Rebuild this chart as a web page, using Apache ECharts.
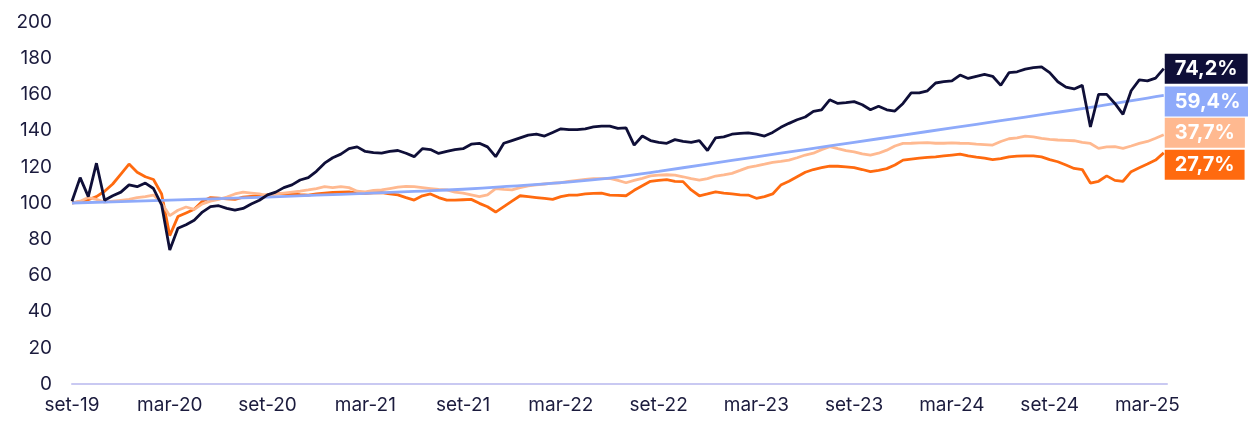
<!DOCTYPE html>
<html>
<head>
<meta charset="utf-8">
<script src="https://cdn.jsdelivr.net/npm/echarts@6/dist/echarts.min.js"></script>
<style>
  html, body { margin: 0; padding: 0; background: #fff; }
  #chart { width: 1248px; height: 421px; }
</style>
</head>
<body>
<div id="chart"></div>
<script>
// x values are months counted from set-19, one point every half month
const STEP = 0.5
const TICK_LABELS = ['set-19', 'mar-20', 'set-20', 'mar-21', 'set-21', 'mar-22',
  'set-22', 'mar-23', 'set-23', 'mar-24', 'set-24', 'mar-25']
const END_LABELS = ['74,2%', '59,4%', '37,7%', '27,7%']

const navy = [
  101, 114, 103.5, 122, 101.5, 104, 106, 110, 109, 111,
  108, 99, 74, 86, 88, 90.5, 95, 98, 98.5, 97,
  96, 97, 99.5, 101.5, 104.5, 106, 108.5, 110, 112.7, 114,
  117.5, 122, 125, 127, 130, 131, 128.5, 127.8, 127.5, 128.5,
  129, 127.5, 125.6, 130, 129.5, 127.4, 128.5, 129.5, 130, 132.5,
  133, 131, 125.6, 133, 134.5, 136, 137.5, 138, 137, 139,
  141, 140.5, 140.5, 141, 142, 142.5, 142.5, 141.2, 141.5, 132,
  137, 134.5, 133.5, 133, 135, 134, 133.5, 134.5, 129, 136,
  136.5, 138, 138.5, 138.8, 138, 137, 139, 141.8, 144, 146,
  147.5, 150.6, 151.5, 157, 155, 155.4, 156, 154.3, 151.5, 153.5,
  151.5, 150.8, 155, 160.8, 160.8, 162, 166.3, 167, 167.5, 170.7,
  168.8, 170, 171, 170, 165, 172, 172.5, 174, 174.8, 175.2,
  172, 167, 164, 163, 165, 142, 160, 160, 155, 149,
  162, 168, 167.5, 169, 174.2
]

const peach = [
  100, 101, 103, 102, 100.5, 101, 101.5, 102, 103, 103.5,
  104.4, 100, 93, 96, 97.8, 96.5, 99.5, 101, 102, 103.3,
  105, 106, 105.5, 105, 104, 105, 105.5, 106, 106.5, 107.2,
  108, 109, 108.5, 109, 108.5, 106.5, 106.2, 107, 107.2, 108,
  108.8, 109.2, 109, 108.5, 108, 107.5, 107.2, 106, 105.5, 104.5,
  103.5, 104.5, 108, 107.5, 107.2, 108.5, 109.5, 110, 110.5, 111,
  111.2, 112, 112.5, 113, 113.5, 113.5, 113.6, 112.5, 111.2, 112.5,
  113.6, 115, 115.4, 115.6, 115.4, 114.5, 113.5, 112.7, 113.5, 114.9,
  115.5, 116.4, 118, 119.7, 120.5, 121.5, 122.5, 123, 123.7, 125,
  126.5, 127.5, 129.5, 131.1, 130, 129, 128.3, 127.2, 126.5, 127.5,
  129.2, 131.5, 132.9, 133, 133.2, 133.3, 133, 133, 133.2, 133,
  132.9, 132.5, 132.3, 132, 134, 135.5, 136, 137, 136.5, 135.7,
  135.2, 134.8, 134.6, 134.4, 133.5, 132.9, 130.2, 131, 131.1, 130.2,
  131.5, 132.9, 134, 135.8, 137.7
]

const orange = [
  100, 100.8, 101.8, 103.5, 106.5, 110.5, 116, 121.5, 117, 114.5,
  113, 105, 82, 92.5, 94.5, 96.5, 101, 103, 102.7, 102.3,
  102, 103.2, 103.6, 104, 104.5, 105, 105.3, 105, 104.6, 104.4,
  105, 105.5, 105.8, 106, 106.2, 105.5, 105.3, 105.6, 105.7, 105,
  104.5, 103, 101.6, 104, 105, 103, 101.6, 101.6, 101.8, 102,
  99.8, 97.9, 95, 98, 101, 104, 103.5, 103, 102.5, 102,
  103.5, 104.4, 104.4, 105, 105.3, 105.4, 104.4, 104.2, 104, 107,
  109.5, 112, 112.5, 112.9, 112, 111.8, 107.2, 104, 105, 106.2,
  105.5, 105, 104.5, 104.4, 102.6, 103.5, 105, 109.9, 112, 114.5,
  117, 118.5, 119.5, 120.4, 120.3, 120, 119.5, 118.5, 117.3, 118,
  119, 121, 123.7, 124.3, 124.8, 125.2, 125.5, 126, 126.5, 127,
  126, 125.3, 124.8, 124, 124.5, 125.5, 125.9, 126, 126, 125.5,
  124, 122.8, 121, 119.1, 118.5, 111, 112, 115, 112.5, 112,
  117.3, 119.5, 121.5, 123.7, 127.7
]

// smooth benchmark line, [month, value]
const blue = [
  [0, 100], [3, 100.8], [6, 101.6], [9, 102.4], [12, 103.3], [15, 104.3],
  [18, 105.3], [21, 106.4], [24, 107.6], [27, 109.3], [30, 111.3], [33, 113.8],
  [36, 117.5], [39, 121.5], [42, 125.5], [45, 129.5], [48, 133.5], [51, 137.5],
  [54, 141.5], [57, 145.5], [60, 149.5], [63, 153.5], [66, 158], [67, 159.4]
]

const COLORS = ['#0f0f38', '#8eaafa', '#ffb990', '#ff6a0f']
const TEXT = '#1b1b3d'

let toPairs = (arr) => arr.map((v, i) => [i * STEP, v])

let makeSeries = (name, data, idx, dy, smooth) => {
  return {
    name: name,
    type: 'line',
    data: data,
    showSymbol: false,
    smooth: smooth,
    z: 10 - idx,
    lineStyle: { color: COLORS[idx], width: 2.8 },
    itemStyle: { color: COLORS[idx] },
    endLabel: {
      show: true,
      formatter: END_LABELS[idx],
      color: '#fff',
      backgroundColor: COLORS[idx],
      fontFamily: 'Inter',
      fontWeight: 'bold',
      fontSize: 20,
      lineHeight: 24,
      padding: [3, 10, 3, 10],
      distance: 1,
      offset: [0, dy]
    }
  }
}

let chart = echarts.init(document.getElementById('chart'))
chart.setOption({
  animation: false,
  textStyle: { fontFamily: 'Inter' },
  grid: { left: 72, right: 81, top: 22, bottom: 37, containLabel: false },
  xAxis: {
    type: 'value',
    min: 0,
    max: 67.2,
    interval: 6,
    splitLine: { show: false },
    axisTick: { show: false },
    axisLine: { show: true, lineStyle: { color: '#c9c9f2', width: 2 } },
    axisLabel: {
      color: TEXT,
      fontSize: 19,
      margin: 12,
      showMaxLabel: false,
      formatter: (v) => (v % 6 === 0 ? TICK_LABELS[v / 6] || '' : '')
    }
  },
  yAxis: {
    type: 'value',
    min: 0,
    max: 200,
    interval: 20,
    splitLine: { show: false },
    axisTick: { show: false },
    axisLine: { show: false },
    axisLabel: { color: TEXT, fontSize: 19, margin: 20 }
  },
  series: [
    makeSeries('navy', toPairs(navy), 0, 0, false),
    makeSeries('blue', blue, 1, 6, true),
    makeSeries('peach', toPairs(peach), 2, -2, false),
    makeSeries('orange', toPairs(orange), 3, 12, false)
  ]
})
</script>
</body>
</html>
